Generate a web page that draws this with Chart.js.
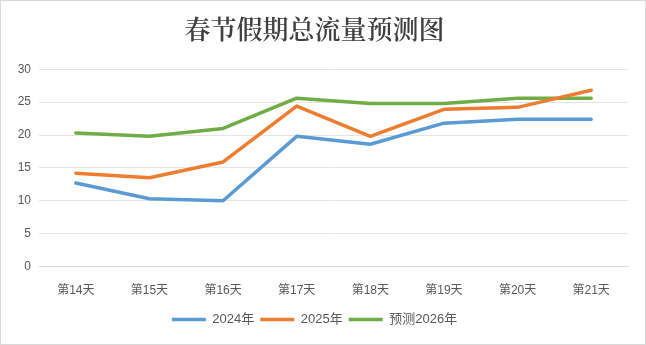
<!DOCTYPE html>
<html>
<head>
<meta charset="utf-8">
<script src="https://cdn.jsdelivr.net/npm/chart.js@4"></script>
<style>
  html, body { margin: 0; padding: 0; background: #fff; }
  #wrap { width: 644px; height: 343px; border: 1px solid #d9d9d9; }
</style>
</head>
<body>
<div id="wrap"><canvas id="chart1" width="644" height="343"></canvas></div>
<script>
// 数据
const days = ['第14天', '第15天', '第16天', '第17天', '第18天', '第19天', '第20天', '第21天'];
const flow2024 = [12.7, 10.3, 10.0, 19.8, 18.6, 21.8, 22.4, 22.4];
const flow2025 = [14.2, 13.5, 15.9, 24.4, 19.8, 23.9, 24.2, 26.8];
const forecast2026 = [20.3, 19.8, 21.0, 25.6, 24.8, 24.8, 25.6, 25.6];

const fontFamily = '"Liberation Sans", "Noto Sans CJK SC", sans-serif';

function lineSet(label, data, color) {
    return {
        label: label,
        data: data,
        borderColor: color,
        backgroundColor: color,
        borderWidth: 3.5,
        borderCapStyle: 'round',
        borderJoinStyle: 'round',
        pointRadius: 0,
        tension: 0
    };
}

new Chart(document.getElementById('chart1').getContext('2d'), {
    type: 'line',
    data: {
        labels: days,
        datasets: [
            lineSet('2024年', flow2024, '#5B9BD5'),
            lineSet('2025年', flow2025, '#ED7D31'),
            lineSet('预测2026年', forecast2026, '#70AD47')
        ]
    },
    options: {
        responsive: false,
        animation: false,
        layout: { padding: { left: 0, right: 17, top: 0, bottom: 8 } },
        plugins: {
            title: {
                display: true,
                text: '春节假期总流量预测图',
                color: '#404040',
                font: { family: '"Noto Serif CJK SC", "Noto Sans CJK SC", serif', size: 26, weight: '600' },
                padding: { top: 13, bottom: 24 }
            },
            legend: {
                position: 'bottom',
                labels: {
                    color: '#595959',
                    font: { family: fontFamily, size: 13 },
                    usePointStyle: true,
                    pointStyle: 'line',
                    pointStyleWidth: 34,
                    padding: 6
                }
            },
            tooltip: { enabled: false }
        },
        scales: {
            x: {
                offset: true,
                grid: { display: false },
                border: { color: '#d9d9d9' },
                ticks: { color: '#595959', font: { family: fontFamily, size: 12 }, padding: 9 }
            },
            y: {
                min: 0,
                max: 30,
                afterFit: (scale) => { scale.width = 38; },
                ticks: { stepSize: 5, color: '#595959', font: { family: fontFamily, size: 12 }, padding: 8 },
                grid: { color: '#e5e5e5', drawTicks: false },
                border: { display: false }
            }
        }
    }
});
</script>
</body>
</html>
